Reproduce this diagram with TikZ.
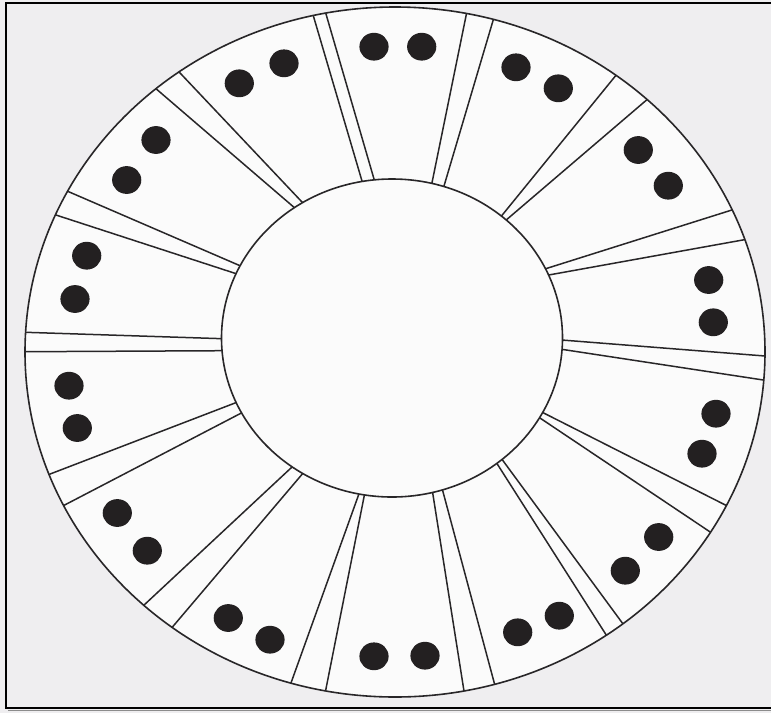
\documentclass[tikz,border=0pt]{standalone}
\definecolor{paper}{RGB}{239,238,240}
\definecolor{sheet}{RGB}{251,251,251}
\definecolor{linec}{RGB}{40,38,40}
\definecolor{dotc}{RGB}{35,32,33}
\begin{document}
\begin{tikzpicture}[x=1pt,y=-1pt,
  ringline/.style={line width=1.6pt, draw=linec},
  sepline/.style={line width=1.5pt, draw=linec, shorten <=-15pt, shorten >=-15pt},
  blob/.style={fill=dotc},
  framebox/.style={line width=2.6pt, draw=black}]
\useasboundingbox (0,0) rectangle (771,713);
\fill[paper] (0,0) rectangle (771,713);
\coordinate (oc) at (395,352);
\coordinate (ic) at (392,338);
\fill[sheet] (oc) ellipse [x radius=370pt, y radius=345pt];
% separators
\begin{scope}[even odd rule]
\clip (oc) ellipse [x radius=370pt, y radius=345pt]
      (ic) ellipse [x radius=170.5pt, y radius=159pt];
\foreach \a/\b/\c/\d in {
  313.3/15.7/361.7/180, 326/14/374/179,
  466/16/432/182.7, 492.7/21.7/444.3/185,
  612.7/79.3/501.7/215.7, 642.7/103.3/507/219.3,
  728.7/211/547/268.3, 742.7/240/548.7/275,
  765/356/561.7/340, 763.3/380/561.7/349.3,
  729.3/507/543.7/413, 711.7/533/541/418.7,
  626/628/502.7/460.3, 607.7/637.3/497.7/464.7,
  464.3/693/432.7/493, 495/685.7/442.7/490.7,
  290/685.7/358.3/495.7, 325/693.7/364/497,
  142.7/606.3/291.7/467.3, 171/628.7/301.7/474.7,
  48.3/474.7/235/403, 63.3/505.7/240/413.7,
  25.7/332.3/222.7/338.7, 25.7/351.7/222.7/350.7,
  70/192.3/240/265.7, 59/216/235/273.3,
  158.3/90.7/293.3/206.7, 181/74/301.7/201.7}
  \draw[sepline] (\a,\b) -- (\c,\d);
\end{scope}
% rings
\draw[ringline] (oc) ellipse [x radius=370pt, y radius=345pt];
\draw[ringline] (ic) ellipse [x radius=170.5pt, y radius=159pt];
% dots
\foreach \p/\q in {374/46.7, 421.7/46.7,
  516/67.3, 558.3/88.3,
  638.3/150, 668.3/185.7,
  708.7/280, 713.3/322.3,
  716/413.7, 702/453.7,
  658.7/537, 625.3/570.7,
  559.3/615.7, 517.7/632.3,
  425/655.7, 374/656.3,
  270/639.7, 228.3/618,
  147.3/550.7, 117.3/513,
  77.3/428, 69/385.7,
  75/299, 86.7/255.7,
  126.7/180, 156/140,
  239.3/83.3, 284/63.3}
  \fill[blob] (\p,\q) ellipse [x radius=14.6pt, y radius=13.9pt];
% frame
\draw[line width=1.5pt, draw=black!45] (8,710.5) -- (775,710.5);
\draw[framebox] (775,3) -- (6,3) -- (6,708) -- (775,708);
\end{tikzpicture}
\end{document}
